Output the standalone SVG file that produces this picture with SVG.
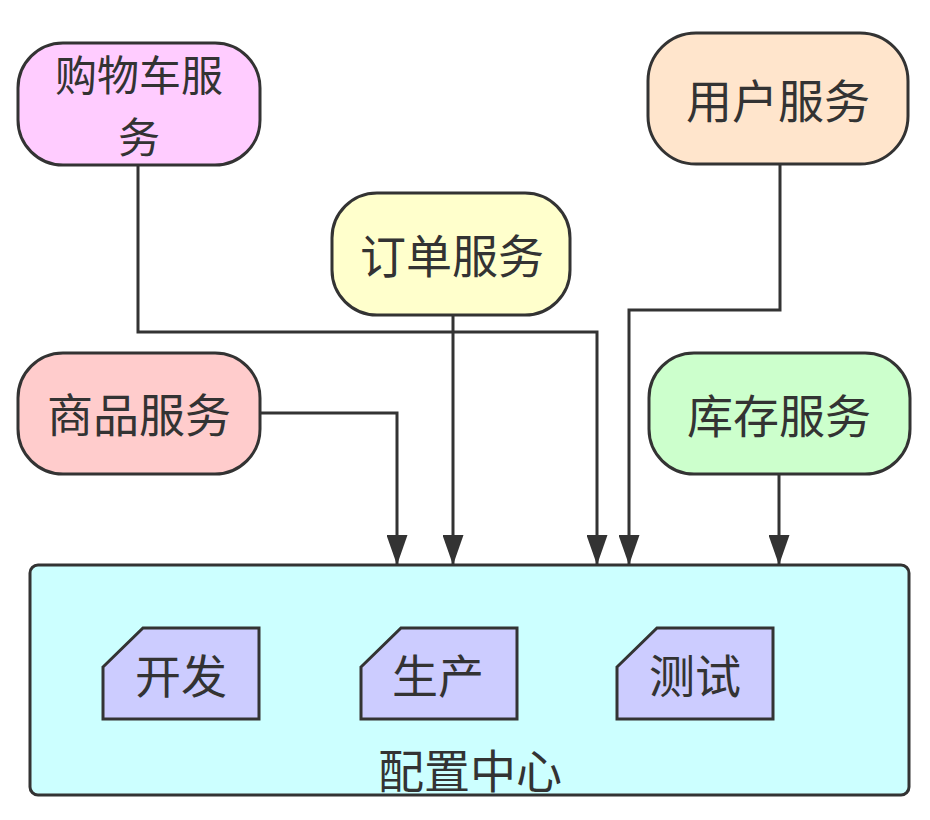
<svg xmlns="http://www.w3.org/2000/svg" width="930" height="820" viewBox="0 0 930 820">
<style>
.n{stroke:#333;stroke-width:3}
.t{font-family:"Noto Sans CJK SC","Noto Sans",sans-serif;font-size:46px;fill:#333;text-anchor:middle;dominant-baseline:central}
.s{font-size:42px}
.c{fill:none;stroke:#333;stroke-width:3}
</style>
<defs>
<marker id="ad" markerUnits="userSpaceOnUse" markerWidth="21" markerHeight="31" refX="10.5" refY="30" orient="0" viewBox="0 0 21 31">
<path d="M0,0 L21,0 L10.5,30 Z" fill="#333"/>
</marker>
</defs>
<rect width="930" height="820" fill="#fff"/>
<g id="config">
<rect x="30" y="565" width="879" height="230" rx="8" fill="#ccffff" class="n"/>
<text class="t" x="470" y="768">配置中心</text>
</g>
<g id="dev">
<path d="M103,667 L143,628 L259,628 L259,719 L103,719 Z" fill="#ccccff" class="n"/>
<text class="t" x="181" y="673">开发</text>
</g>
<g id="prod">
<path d="M361,667 L401,628 L517,628 L517,719 L361,719 Z" fill="#ccccff" class="n"/>
<text class="t" x="438" y="673">生产</text>
</g>
<g id="test">
<path d="M617,667 L657,628 L773,628 L773,719 L617,719 Z" fill="#ccccff" class="n"/>
<text class="t" x="695" y="673">测试</text>
</g>
<g id="connectors">
<path class="c" d="M138,165 L138,332 L597,332 L597,565" marker-end="url(#ad)"/>
<path class="c" d="M453,315 L453,565" marker-end="url(#ad)"/>
<path class="c" d="M780,164 L780,310 L629,310 L629,565" marker-end="url(#ad)"/>
<path class="c" d="M260,413 L397,413 L397,565" marker-end="url(#ad)"/>
<path class="c" d="M779,474 L779,565" marker-end="url(#ad)"/>
</g>
<g id="cart">
<rect x="18" y="43" width="242" height="122" rx="45" fill="#ffccff" class="n"/>
<text class="t s" x="139" y="72">购物车服</text>
<text class="t s" x="139" y="134">务</text>
</g>
<g id="user">
<rect x="648" y="33" width="260" height="131" rx="48" fill="#ffe5cc" class="n"/>
<text class="t" x="778" y="98">用户服务</text>
</g>
<g id="order">
<rect x="332" y="193" width="238" height="122" rx="45" fill="#ffffcc" class="n"/>
<text class="t" x="452" y="253">订单服务</text>
</g>
<g id="goods">
<rect x="18" y="353" width="242" height="121" rx="45" fill="#ffcccc" class="n"/>
<text class="t" x="139" y="412">商品服务</text>
</g>
<g id="stock">
<rect x="649" y="353" width="261" height="121" rx="45" fill="#ccffcc" class="n"/>
<text class="t" x="779" y="413">库存服务</text>
</g>
</svg>
